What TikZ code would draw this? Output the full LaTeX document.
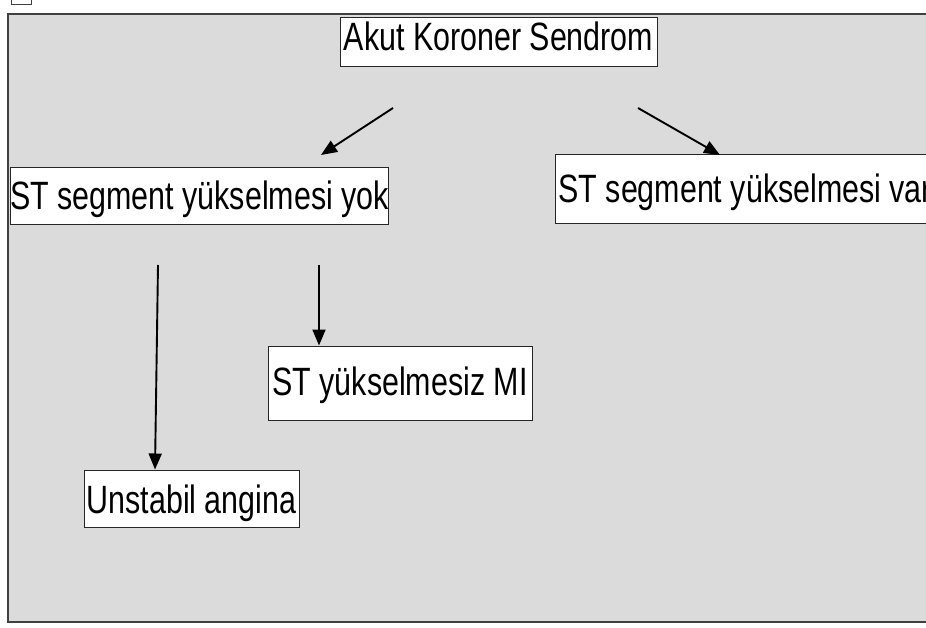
\documentclass[tikz,border=0pt]{standalone}
\usepackage{fontspec}
\setmainfont[FakeStretch=0.77]{Liberation Sans}
\usetikzlibrary{arrows.meta}
\definecolor{panel}{RGB}{219,219,219}
\definecolor{frame}{RGB}{64,64,64}

\begin{document}
\begin{tikzpicture}[x=1pt,y=-1pt,
    box/.style={rectangle, draw=black!85, fill=white, line width=1pt, inner sep=0pt, anchor=base, font=\fontsize{39.5}{44}\selectfont},
    arrow/.style={line width=1.9pt,-{Triangle[length=16pt,width=13pt]}}]
    \useasboundingbox (0,0) rectangle (926,628);
    \clip (0,0) rectangle (926,628);

    % Background
    \draw [frame, line width=1pt] (11,-4) rectangle (31,5);
    \draw [draw=frame, fill=panel, line width=2pt] (8,14) rectangle (940,622);

    % Nodes
    \node [box, minimum width=317pt, text height=33pt, text depth=16pt] (acs) at (498.5,51) {Akut Koroner Sendrom};
    \node [box, minimum width=375pt, text height=42pt, text depth=15pt] (nste) at (199.5,210) {ST segment yükselmesi yok};
    \node [box, anchor=base west, inner xsep=3pt, text height=48pt, text depth=21pt] (ste) at (555,203) {\makebox[400pt][l]{ST segment yükselmesi var}};
    \node [box, minimum width=264pt, text height=49pt, text depth=25pt] (nmi) at (400,395) {ST yükselmesiz MI};
    \node [box, minimum width=215pt, text height=43pt, text depth=14pt] (ua) at (191.5,513) {Unstabil angina};

    % Arrow ends
    \coordinate (acs-l) at (393,108);
    \coordinate (nste-t) at (321,155);
    \coordinate (acs-r) at (638,108);
    \coordinate (ste-t) at (720,155);
    \coordinate (ua-from) at (158,265);
    \coordinate (nmi-from) at (319,265);

    % Arrows
    \draw [arrow] (acs-l) -- (nste-t);
    \draw [arrow] (acs-r) -- (ste-t);
    \draw [arrow] (ua-from) -- (155,0 |- ua.north);
    \draw [arrow] (nmi-from) -- (nmi-from |- nmi.north);

\end{tikzpicture}
\end{document}
